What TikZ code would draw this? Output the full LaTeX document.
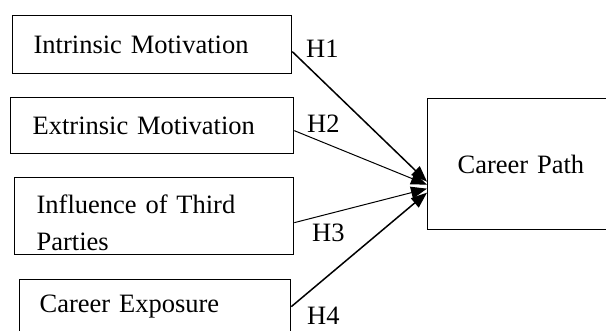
\documentclass[tikz,border=0pt]{standalone}
\usepackage{fontspec}
\setmainfont{Liberation Serif}
\usetikzlibrary{arrows.meta}
\tikzstyle{factor} = [rectangle, draw=black, line width=1.3pt, anchor=north west, align=left, inner ysep=0pt, font=\fontsize{26.5}{37}\selectfont]
\tikzstyle{hyp} = [anchor=base west, inner sep=0pt, font=\fontsize{26.5}{37}\selectfont]
\tikzstyle{arrow} = [line width=1.5pt, -{Triangle[length=16pt,width=12pt]}]
\tikzstyle{thinarrow} = [arrow, line width=1pt]

\begin{document}
\begin{tikzpicture}[x=1pt, y=-1pt]
    \useasboundingbox (0,0) rectangle (606,330);
    \clip (0,0) rectangle (606,330);
    \node (intr) [factor, inner xsep=21pt, text width=237pt, minimum height=58pt] at (12,15)
    {Intrinsic Motivation};
    \node (extr) [factor, inner xsep=22pt, text width=239pt, minimum height=56pt] at (10,97)
    {Extrinsic Motivation};
    \node (infl) [factor, inner xsep=22pt, text width=235pt, text height=36pt, text depth=41pt] at (14,177)
    {Influence of Third\\Parties};
    \node (expo) [factor, inner xsep=20pt, text width=231pt, minimum height=54pt] at (19,279)
    {Career Exposure};
    \node (path) [factor, inner xsep=30pt, text width=153pt, minimum height=131pt] at (427,98)
    {Career Path};

    \node (h1) [hyp] at (306,57) {H1};
    \node (h2) [hyp] at (307,132) {H2};
    \node (h3) [hyp] at (312,241) {H3};
    \node (h4) [hyp] at (307,324) {H4};

    % all four hypotheses point into the career path box
    \draw [arrow] ([yshift=-7pt]intr.east) -- ([yshift=-17.5pt]path.west);
    \draw [thinarrow] ([yshift=-5pt]extr.east) -- ([yshift=-20.5pt]path.west);
    \draw [thinarrow] ([yshift=-6.5pt]infl.east) -- ([yshift=-24.5pt]path.west);
    \draw [arrow] (expo.east) -- ([yshift=-28.5pt]path.west);
\end{tikzpicture}
\end{document}
